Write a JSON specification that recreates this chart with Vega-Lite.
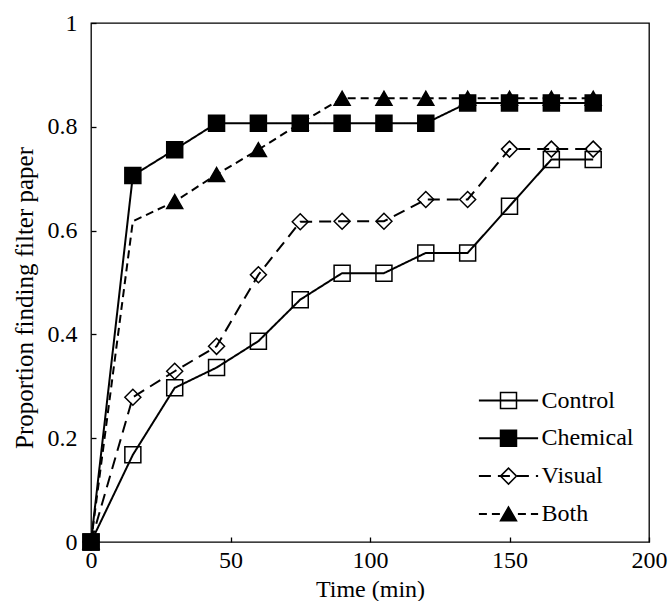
{
  "$schema": "https://vega.github.io/schema/vega-lite/v6.json",
  "width": 558,
  "height": 519,
  "autosize": {"type": "none"},
  "padding": {"left": 91, "top": 23, "right": 21, "bottom": 59},
  "background": "white",
  "config": {
    "view": {"stroke": "black", "strokeWidth": 1.3},
    "font": "Liberation Serif",
    "axis": {"labelFont": "Liberation Serif", "titleFont": "Liberation Serif"},
    "legend": {"labelFont": "Liberation Serif", "titleFont": "Liberation Serif"}
  },
  "data": {
    "values": [
      {"series": "Control", "time": 0, "p": 0},
      {"series": "Control", "time": 15, "p": 0.168},
      {"series": "Control", "time": 30, "p": 0.297},
      {"series": "Control", "time": 45, "p": 0.336},
      {"series": "Control", "time": 60, "p": 0.387},
      {"series": "Control", "time": 75, "p": 0.467},
      {"series": "Control", "time": 90, "p": 0.518},
      {"series": "Control", "time": 105, "p": 0.518},
      {"series": "Control", "time": 120, "p": 0.557},
      {"series": "Control", "time": 135, "p": 0.557},
      {"series": "Control", "time": 150, "p": 0.647},
      {"series": "Control", "time": 165, "p": 0.737},
      {"series": "Control", "time": 180, "p": 0.737},
      {"series": "Chemical", "time": 0, "p": 0},
      {"series": "Chemical", "time": 15, "p": 0.706},
      {"series": "Chemical", "time": 30, "p": 0.756},
      {"series": "Chemical", "time": 45, "p": 0.807},
      {"series": "Chemical", "time": 60, "p": 0.807},
      {"series": "Chemical", "time": 75, "p": 0.807},
      {"series": "Chemical", "time": 90, "p": 0.807},
      {"series": "Chemical", "time": 105, "p": 0.807},
      {"series": "Chemical", "time": 120, "p": 0.807},
      {"series": "Chemical", "time": 135, "p": 0.846},
      {"series": "Chemical", "time": 150, "p": 0.846},
      {"series": "Chemical", "time": 165, "p": 0.846},
      {"series": "Chemical", "time": 180, "p": 0.846},
      {"series": "Visual", "time": 0, "p": 0},
      {"series": "Visual", "time": 15, "p": 0.279},
      {"series": "Visual", "time": 30, "p": 0.329},
      {"series": "Visual", "time": 45, "p": 0.377},
      {"series": "Visual", "time": 60, "p": 0.515},
      {"series": "Visual", "time": 75, "p": 0.617},
      {"series": "Visual", "time": 90, "p": 0.618},
      {"series": "Visual", "time": 105, "p": 0.618},
      {"series": "Visual", "time": 120, "p": 0.66},
      {"series": "Visual", "time": 135, "p": 0.66},
      {"series": "Visual", "time": 150, "p": 0.757},
      {"series": "Visual", "time": 165, "p": 0.757},
      {"series": "Visual", "time": 180, "p": 0.757},
      {"series": "Both", "time": 0, "p": 0},
      {"series": "Both", "time": 15, "p": 0.618},
      {"series": "Both", "time": 30, "p": 0.656},
      {"series": "Both", "time": 45, "p": 0.708},
      {"series": "Both", "time": 60, "p": 0.756},
      {"series": "Both", "time": 75, "p": 0.807},
      {"series": "Both", "time": 90, "p": 0.855},
      {"series": "Both", "time": 105, "p": 0.855},
      {"series": "Both", "time": 120, "p": 0.855},
      {"series": "Both", "time": 135, "p": 0.855},
      {"series": "Both", "time": 150, "p": 0.855},
      {"series": "Both", "time": 165, "p": 0.855},
      {"series": "Both", "time": 180, "p": 0.855}
    ]
  },
  "encoding": {
    "x": {
      "field": "time",
      "type": "quantitative",
      "scale": {"domain": [0, 200], "nice": false},
      "axis": {
        "values": [0, 50, 100, 150, 200],
        "title": "Time (min)",
        "grid": false,
        "domain": false,
        "tickSize": -5,
        "tickColor": "black",
        "tickWidth": 1.3,
        "labelFont": "Liberation Serif",
        "labelFontSize": 24,
        "labelColor": "black",
        "labelPadding": 11,
        "labelFlush": false,
        "labelOverlap": false,
        "titleFont": "Liberation Serif",
        "titleFontSize": 24,
        "titleFontWeight": "normal",
        "titleColor": "black",
        "titleBaseline": "alphabetic",
        "titleY": 54
      }
    },
    "y": {
      "field": "p",
      "type": "quantitative",
      "scale": {"domain": [0, 1], "nice": false},
      "axis": {
        "values": [0, 0.2, 0.4, 0.6, 0.8, 1],
        "format": "~g",
        "title": "Proportion finding filter paper",
        "grid": false,
        "domain": false,
        "tickSize": -5,
        "tickColor": "black",
        "tickWidth": 1.3,
        "labelFont": "Liberation Serif",
        "labelFontSize": 24,
        "labelColor": "black",
        "labelPadding": 19,
        "labelFlush": false,
        "labelOverlap": false,
        "titleFont": "Liberation Serif",
        "titleFontSize": 25,
        "titleFontWeight": "normal",
        "titleColor": "black",
        "titleBaseline": "alphabetic",
        "titleX": -58.7,
        "titleY": 274.5
      }
    }
  },
  "layer": [
    {
      "mark": {"type": "line", "color": "black", "strokeWidth": 2},
      "encoding": {
        "strokeDash": {
          "field": "series",
          "type": "nominal",
          "sort": ["Control", "Chemical", "Visual", "Both"],
          "scale": {"range": [[1, 0], [1, 0], [12, 7], [8, 5]]},
          "legend": {
            "title": null,
            "orient": "none",
            "legendX": 405.5,
            "legendY": 365.5,
            "symbolType": "M-3.7,0H3.7",
            "symbolSize": 256,
            "symbolStrokeColor": "black",
            "symbolStrokeWidth": 2,
            "symbolFillColor": "transparent",
            "labelFont": "Liberation Serif",
            "labelFontSize": 24,
            "labelColor": "black",
            "labelOffset": 21,
            "labelLimit": 300,
            "rowPadding": 13.8
          }
        }
      }
    },
    {
      "transform": [{"filter": "!(datum.series === 'Both' && datum.time === 15)"}],
      "mark": {"type": "point", "stroke": "black", "strokeWidth": 1.5, "opacity": 1},
      "encoding": {
        "shape": {
          "field": "series",
          "type": "nominal",
          "scale": {"domain": ["Control", "Chemical", "Visual", "Both"], "range": ["square", "square", "diamond", "triangle-up"]},
          "legend": {
            "title": null,
            "orient": "none",
            "legendX": 405.5,
            "legendY": 365.5,
            "symbolStrokeColor": "black",
            "symbolStrokeWidth": 1.5,
            "labelFont": "Liberation Serif",
            "labelFontSize": 24,
            "labelOpacity": 0,
            "labelOffset": 21,
            "labelLimit": 300,
            "rowPadding": 13.8
          }
        },
        "fill": {
          "field": "series",
          "type": "nominal",
          "scale": {"domain": ["Control", "Chemical", "Visual", "Both"], "range": ["transparent", "black", "transparent", "black"]},
          "legend": {
            "title": null,
            "orient": "none",
            "legendX": 405.5,
            "legendY": 365.5
          }
        },
        "size": {
          "field": "series",
          "type": "nominal",
          "scale": {"domain": ["Control", "Chemical", "Visual", "Both"], "range": [256, 256, 256, 150]},
          "legend": {
            "title": null,
            "orient": "none",
            "legendX": 405.5,
            "legendY": 365.5
          }
        }
      }
    }
  ]
}
